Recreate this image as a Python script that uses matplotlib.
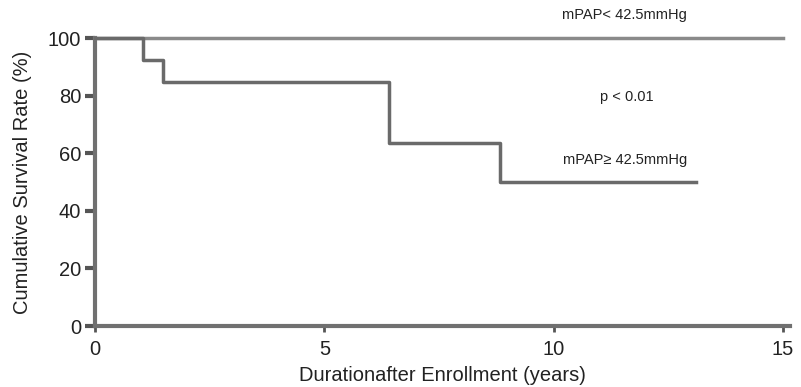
import matplotlib.pyplot as plt

plt.rcParams['font.family'] = ['Liberation Sans', 'DejaVu Sans']

# Survival curves (years, %)
low_years = [0, 15]
low_surv = [100, 100]
high_years = [0, 1.05, 1.48, 6.41, 8.83, 13.1]
high_surv = [100, 92.3, 84.6, 63.5, 50.0, 50.0]

x_ticks = [0, 5, 10, 15]
y_ticks = [0, 20, 40, 60, 80, 100]

fig = plt.figure(figsize=(8.01, 3.87), dpi=100)
ax = fig.add_axes([0.1186, 0.1576, 0.8675, 0.7442])

ax.step(low_years, low_surv, where='post', color='#8a8a8a', lw=2.5, clip_on=False, zorder=3)
ax.step(high_years, high_surv, where='post', color='#6a6a6a', lw=2.5, clip_on=False, zorder=4)

ax.set_xlim(0, 15.15)
ax.set_ylim(0, 100)
ax.set_xticks(x_ticks)
ax.set_yticks(y_ticks)

for s in ['top', 'right']:
    ax.spines[s].set_visible(False)
for s in ['left', 'bottom']:
    ax.spines[s].set_color('#707070')
    ax.spines[s].set_linewidth(3)

ax.tick_params(axis='y', length=7, width=3, color='#555555', labelsize=14.5, labelcolor='#222222', pad=3)
ax.tick_params(axis='x', length=4, width=2, color='#555555', labelsize=14.5, labelcolor='#222222', pad=6)

ax.set_xlabel('Durationafter Enrollment (years)', fontsize=14.5, color='#222222', labelpad=5)
ax.set_ylabel('Cumulative Survival Rate (%)', fontsize=14.5, color='#222222', labelpad=11)

ax.text(11.55, 108, 'mPAP< 42.5mmHg', fontsize=10.5, color='#222222', ha='center', va='center', clip_on=False)
ax.text(11.6, 79.5, 'p < 0.01', fontsize=10.5, color='#222222', ha='center', va='center')
ax.text(11.55, 57.5, 'mPAP\u2265 42.5mmHg', fontsize=10.5, color='#222222', ha='center', va='center')

plt.savefig('out.png', dpi=100)
